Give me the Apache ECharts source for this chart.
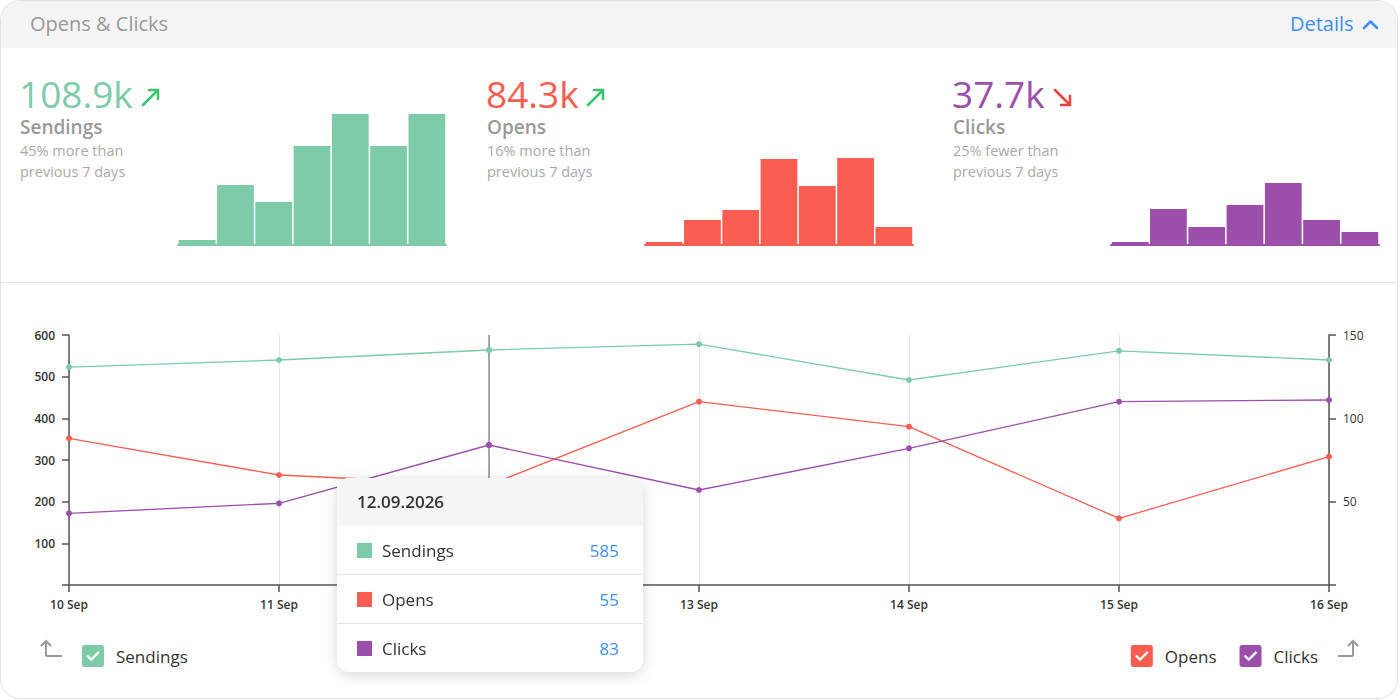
<!DOCTYPE html>
<html>
<head>
<meta charset="utf-8">
<title>Opens & Clicks</title>
<script src="https://cdn.jsdelivr.net/npm/echarts@6/dist/echarts.min.js"></script>
<style>
  html, body { margin: 0; padding: 0; background: #fff; }
  body { width: 1400px; height: 700px; position: relative; overflow: hidden; font-family: 'Open Sans', sans-serif; }
  .card { position: absolute; left: 0; top: 0; width: 1396px; height: 697px; border: 1px solid #e2e2e2; border-radius: 20px; overflow: hidden; }
  .card .head { position: absolute; left: 0; top: 0; right: 0; height: 47px; background: #f4f4f4; }
  .card .divider { position: absolute; left: 0; right: 0; top: 281px; height: 1px; background: #e6e6e6; }
  .title { position: absolute; left: 30px; top: 14px; font-size: 20px; line-height: 20px; color: #999; }
  .details { position: absolute; left: 1290px; top: 14px; font-size: 20px; line-height: 20px; color: #3d8ff5; font-weight: 500; }
  .kpi { position: absolute; top: 0; }
  .kpi .num { position: absolute; left: -1px; top: 75px; font-size: 37px; line-height: 37px; white-space: nowrap; }
  .kpi .name { position: absolute; left: 0; top: 118px; font-size: 19px; line-height: 19px; font-weight: 600; color: #999; white-space: nowrap; }
  .kpi .note { position: absolute; left: 0; top: 140px; font-size: 14.5px; line-height: 21px; color: #aaa; white-space: nowrap; }
  #icons { position: absolute; left: 0; top: 0; }
  #chart { position: absolute; left: 0; top: 0; width: 1400px; height: 700px; }
</style>
</head>
<body>
<div class="card"><div class="head"></div><div class="divider"></div></div>
<div class="title">Opens &amp; Clicks</div>
<div class="details">Details</div>
<div id="kpis"></div>
<svg id="icons" width="1400" height="700">
  <polyline points="1364,28 1370.5,21.5 1377,28" fill="none" stroke="#3d8ff5" stroke-width="2.5" stroke-linecap="round" stroke-linejoin="round"/>
  <g fill="none" stroke="#3cc46c" stroke-width="2.5" stroke-linecap="round" stroke-linejoin="round">
    <line x1="143" y1="105" x2="158" y2="90"/><polyline points="149,90 158,90 158,99"/>
    <line x1="588" y1="105" x2="603" y2="90"/><polyline points="594,90 603,90 603,99"/>
  </g>
  <g fill="none" stroke="#e8423f" stroke-width="2.5" stroke-linecap="round" stroke-linejoin="round">
    <line x1="1055" y1="90" x2="1070" y2="105"/><polyline points="1070,96 1070,105 1061,105"/>
  </g>
  <g fill="none" stroke="#999" stroke-width="2" stroke-linejoin="miter">
    <polyline points="46,656 46,641"/><polyline points="41,646 46,641 51,646"/><polyline points="46,656 62,656"/>
    <polyline points="1353,656 1353,641"/><polyline points="1348,646 1353,641 1358,646"/><polyline points="1353,656 1338,656"/>
  </g>
</svg>
<div id="chart"></div>
<script>
// main chart data
const days = ['10 Sep', '11 Sep', '12 Sep', '13 Sep', '14 Sep', '15 Sep', '16 Sep'];
const sendings = [523, 540, 564, 578, 492, 562, 540];
const opens = [88, 66, 60, 110, 95, 40, 77];
const clicks = [43, 49, 84, 57, 82, 110, 111];

// weekly mini bars
const sendingsWeek = [5, 60, 43, 99, 131, 99, 131];
const opensWeek = [3, 25, 35, 86, 59, 87, 18];
const clicksWeek = [3, 36, 18, 40, 62, 25, 13];

// kpi header texts
const kpiTotals = ['108.9k', '84.3k', '37.7k'];
const kpiNames = ['Sendings', 'Opens', 'Clicks'];
const kpiNotes = ['45% more than<br>previous 7 days', '16% more than<br>previous 7 days', '25% fewer than<br>previous 7 days'];

// tooltip texts
const tipDate = '12.09.2026';
const tipValues = [585, 55, 83];

const colors = ['#7ecbaa', '#f95d52', '#9b4fab'];
const kpiLeft = [20, 487, 953];
const miniLeft = [178, 645, 1111];

let kpiHtml = '';
kpiNames.forEach((n, i) => {
  kpiHtml += '<div class="kpi" style="left:' + kpiLeft[i] + 'px">' +
    '<div class="num" style="color:' + colors[i] + '">' + kpiTotals[i] + '</div>' +
    '<div class="name">' + n + '</div>' +
    '<div class="note">' + kpiNotes[i] + '</div></div>';
});
document.getElementById('kpis').innerHTML = kpiHtml;

const checkIcon = 'path://M3,0H21Q24,0,24,3V21Q24,24,21,24H3Q0,24,0,21V3Q0,0,3,0Z' +
  'M6.4,10.6L4.6,12.4L10,17.8L19.4,8.4L17.6,6.6L10,14.2Z';
const font = "'Open Sans', sans-serif";

let instance = echarts.init(document.getElementById('chart'), null, { renderer: 'svg' });

let weeks = [sendingsWeek, opensWeek, clicksWeek];
let grids = [], xAxes = [], yAxes = [], series = [];

weeks.forEach((w, i) => {
  grids.push({ left: miniLeft[i], top: 105, width: 268, height: 140, containLabel: false });
  xAxes.push({
    type: 'category', gridIndex: i, data: days,
    axisLine: { lineStyle: { color: colors[i], width: 2 } },
    axisTick: { show: false }, axisLabel: { show: false }, splitLine: { show: false },
    axisPointer: { show: false }
  });
  yAxes.push({ type: 'value', gridIndex: i, min: 0, max: 140, show: false, splitLine: { show: false } });
  series.push({
    type: 'bar', xAxisIndex: i, yAxisIndex: i, data: w,
    barCategoryGap: '4%', itemStyle: { color: colors[i] }, silent: true
  });
});

// main chart
grids.push({ left: 69, right: 71, top: 335, bottom: 115, containLabel: false });
xAxes.push({
  type: 'category', gridIndex: 3, data: days, boundaryGap: false,
  axisLine: { lineStyle: { color: '#555', width: 1.5 } },
  axisTick: { length: 7, lineStyle: { color: '#555', width: 1.5 } },
  axisLabel: { color: '#333', fontSize: 12, fontWeight: 600, fontFamily: font, margin: 13 },
  splitLine: { show: true, lineStyle: { color: '#e4e4e4', width: 1 } }
});
yAxes.push({
  type: 'value', gridIndex: 3, position: 'left', min: 0, max: 600, interval: 100,
  axisLine: { show: true, lineStyle: { color: '#555', width: 1.5 } },
  axisTick: { show: true, length: 7, lineStyle: { color: '#555', width: 1.5 } },
  axisLabel: { color: '#333', fontSize: 12, fontWeight: 600, fontFamily: font, margin: 14,
    formatter: v => v === 0 ? '' : v },
  splitLine: { show: false }
});
yAxes.push({
  type: 'value', gridIndex: 3, position: 'right', min: 0, max: 150, interval: 50,
  axisLine: { show: true, lineStyle: { color: '#555', width: 1.5 } },
  axisTick: { show: true, length: 7, lineStyle: { color: '#555', width: 1.5 } },
  axisLabel: { color: '#333', fontSize: 12, fontFamily: font, margin: 14,
    formatter: v => v === 0 ? '' : v },
  splitLine: { show: false }
});

let lineData = [sendings, opens, clicks];
lineData.forEach((d, i) => {
  series.push({
    name: kpiNames[i], type: 'line', xAxisIndex: 3, yAxisIndex: i === 0 ? 3 : 4, data: d,
    color: colors[i], symbol: 'circle', symbolSize: 6, showSymbol: true, z: 5,
    lineStyle: { width: 1.3 }, emphasis: { disabled: true }
  });
});

function tipFormatter() {
  let html = '<div style="width:306px;font-family:' + font + ';">' +
    '<div style="height:48px;line-height:48px;background:#f5f5f5;padding-left:20px;font-size:17px;font-weight:600;color:#333;">' + tipDate + '</div>';
  kpiNames.forEach((n, i) => {
    html += '<div style="height:48px;display:flex;align-items:center;padding:0 24px 0 20px;font-size:17px;' +
      (i > 0 ? 'border-top:1px solid #e6e6e6;' : '') + '">' +
      '<span style="display:inline-block;width:15px;height:15px;background:' + colors[i] + ';margin-right:10px;"></span>' +
      '<span style="color:#333;flex:1;">' + n + '</span>' +
      '<span style="color:#3d8ff5;">' + tipValues[i] + '</span></div>';
  });
  return html + '</div>';
}

const legendBase = {
  orient: 'horizontal', top: 645, padding: 0, icon: checkIcon,
  itemWidth: 22, itemHeight: 22, itemGap: 23,
  itemStyle: { borderWidth: 0 },
  textStyle: { color: '#333', fontSize: 17, fontFamily: font, padding: [0, 0, 0, 7] }
};

instance.setOption({
  animation: false,
  textStyle: { fontFamily: font },
  grid: grids,
  xAxis: xAxes,
  yAxis: yAxes,
  legend: [
    Object.assign({}, legendBase, { left: 82, data: ['Sendings'] }),
    Object.assign({}, legendBase, { right: 82, data: ['Opens', 'Clicks'] })
  ],
  tooltip: {
    trigger: 'axis', triggerOn: 'none', alwaysShowContent: true, transitionDuration: 0,
    padding: 0, borderWidth: 0, borderRadius: 12, backgroundColor: '#fff',
    extraCssText: 'box-shadow:0 3px 14px rgba(0,0,0,0.16);overflow:hidden;',
    position: () => [337, 478],
    axisPointer: { type: 'line', z: 1, lineStyle: { color: '#8c8c8c', width: 1.5, type: 'solid' }, label: { show: false } },
    formatter: tipFormatter
  },
  series: series
});

instance.dispatchAction({ type: 'showTip', seriesIndex: 3, dataIndex: 2 });

window.onresize = () => {
  instance.resize();
};
</script>
</body>
</html>
